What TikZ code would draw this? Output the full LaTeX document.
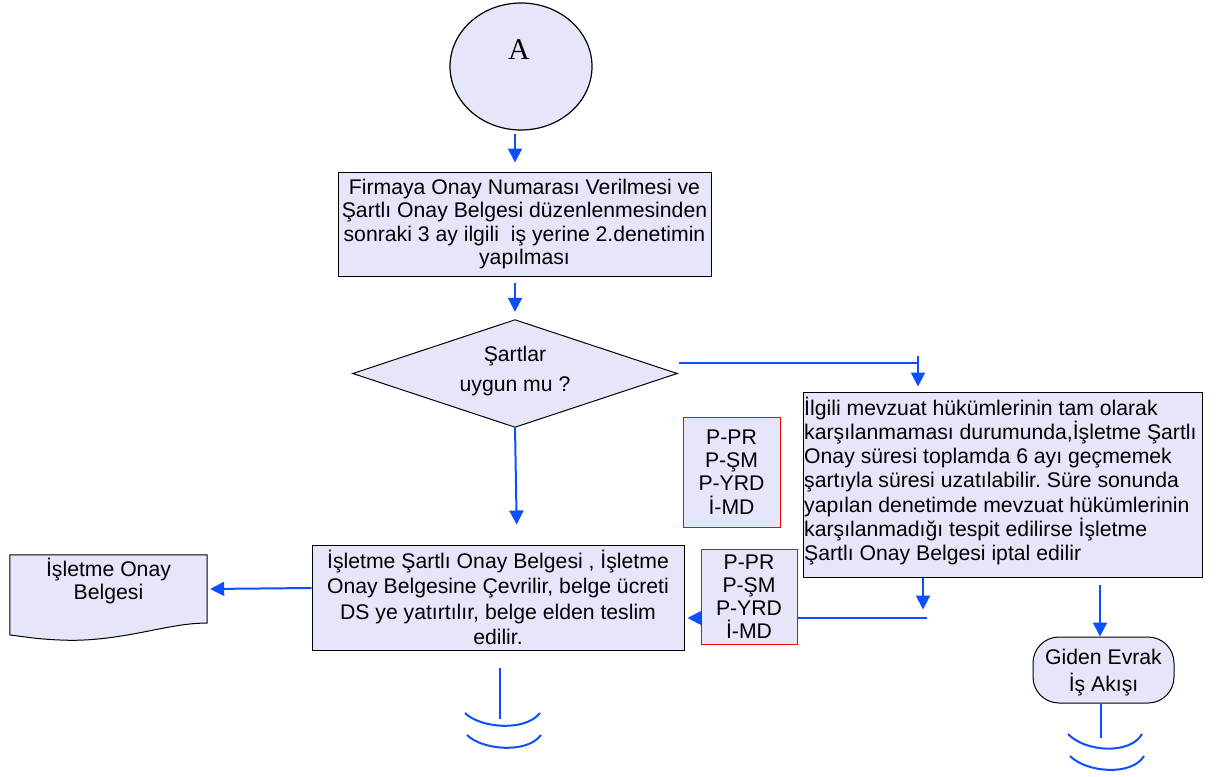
\documentclass[tikz,border=0pt]{standalone}
\usepackage{fontspec}
\setmainfont{Liberation Sans}
\newfontfamily\serifA{Liberation Serif}
\usetikzlibrary{arrows.meta,shapes.geometric}
\definecolor{fillc}{RGB}{230,230,250}
\definecolor{flow}{RGB}{10,80,255}
\frenchspacing
\begin{document}
\begin{tikzpicture}[x=1pt,y=-1pt,
  txt/.style={font=\fontsize{21.2}{23.5}\selectfont},
  box/.style={txt,draw=black,line width=1pt,fill=fillc,align=center,inner sep=2pt},
  refbox/.style={draw=red,line width=1pt,fill=fillc,align=center,inner sep=2pt,
     font=\fontsize{21.2}{23.2}\selectfont},
  flowline/.style={draw=flow,line width=2pt},
  arr/.style={flowline,-{Triangle[width=14pt,length=14pt]}},
  arc/.style={draw=flow,line width=2pt}]
\useasboundingbox (0,0) rectangle (1222,776);
\coordinate (colx) at (515,0);
\coordinate (rx) at (918,0);

% start circle
\node[ellipse,draw=black,line width=1.2pt,fill=fillc,minimum width=142pt,minimum height=127pt,inner sep=0pt] (A) at (521,66.5) {};
\node[font=\serifA\fontsize{30}{30}\selectfont] (Alab) at (519,50) {A};

% box 1
\node[box,minimum width=373pt,minimum height=104pt] (b1) at (524.5,224)
  {Firmaya Onay Numarası Verilmesi ve\\Şartlı Onay Belgesi düzenlenmesinden\\sonraki 3 ay ilgili\ \ iş yerine 2.denetimin\\yapılması};

% decision
\node[minimum width=324pt,minimum height=107pt,inner sep=0pt] (dec) at (515,373.5) {};
\draw[line width=1pt,fill=fillc] (dec.west) -- (dec.north) -- (dec.east) -- (dec.south) -- cycle;
\node[align=center,font=\fontsize{21.2}{30}\selectfont] (declab) at (515,371) {Şartlar\\uygun mu ?};

% right box
\node[draw=black,line width=1pt,fill=fillc,minimum width=399pt,minimum height=185pt,inner sep=0pt] (rb) at (1002.5,484.5) {};
\node[txt,align=left,anchor=west,inner sep=0pt,font=\fontsize{21.2}{24.2}\selectfont] (rblab) at (804,481)
  {İlgili mevzuat hükümlerinin tam olarak\\karşılanmaması durumunda,İşletme Şartlı\\Onay süresi toplamda 6 ayı geçmemek\\şartıyla süresi uzatılabilir. Süre sonunda\\yapılan denetimde mevzuat hükümlerinin\\karşılanmadığı tespit edilirse İşletme\\Şartlı Onay Belgesi iptal edilir};

% ref box 1
\node[refbox,minimum width=97pt,minimum height=110pt] (r1) at (731.5,472)
  {P-PR\\P-ŞM\\P-YRD\\İ-MD};

% box 2
\node[box,minimum width=372pt,minimum height=105pt,font=\fontsize{21.2}{25.5}\selectfont] (b2) at (498,597.5)
  {İşletme Şartlı Onay Belgesi , İşletme\\Onay Belgesine Çevrilir, belge ücreti\\DS ye yatırtılır, belge elden teslim\\edilir.};

% document
\node[minimum width=197pt,minimum height=68pt,inner sep=0pt] (doc) at (108.5,589) {};
\draw[line width=1pt,fill=fillc] (doc.north west) -- (doc.north east) -- (doc.south east)
  .. controls (170,622) and (120,643) .. (60,640)
  .. controls (35,639) and (20,636) .. (10,635) -- cycle;
\node[txt,align=center] (doclab) at (108.5,581) {İşletme Onay\\Belgesi};

% terminator
\node[draw=black,line width=1pt,fill=fillc,minimum width=141pt,minimum height=66pt,rounded corners=26pt,inner sep=0pt] (term) at (1103.5,670) {};
\node[align=center,font=\fontsize{21.2}{27}\selectfont] (termlab) at (1103.5,673) {Giden Evrak\\İş Akışı};

% connectors
\draw[arr,shorten <=3pt,shorten >=9pt] (colx |- A.south) -- (colx |- b1.north);
\draw[arr,shorten <=6pt,shorten >=8pt] (colx |- b1.south) -- (colx |- dec.north);
\draw[arr,shorten >=20pt] (dec.south) -- ([xshift=2pt]dec.south |- b2.north);
\coordinate (d1) at ([shift={(2,-11)}]dec.east);
\draw[flowline] (d1) -- (d1 -| rx);
\draw[arr] ([yshift=7pt]d1 -| rx) -- ([yshift=5pt]rb.north -| rx);
\coordinate (c2) at (923,0);
\draw[arr] (rb.south -| c2) -- ([yshift=-9pt]rb.south -| c2) -- ++(0,23);
\coordinate (j2) at (927,618);
\draw[arr,shorten >=3pt] (j2) -- (j2 -| b2.east);
\draw[arr,shorten >=3pt] ([yshift=9.5pt]b2.west) -- (doc.east);
\coordinate (c3) at (1100,585);
\draw[arr] (c3) -- (c3 |- term.north);

% ref box 2 (over the connector)
\node[refbox,minimum width=96pt,minimum height=95pt] (r2) at (749,596.5)
  {P-PR\\P-ŞM\\P-YRD\\İ-MD};

% off-page ends
\coordinate (e1) at (500,668);
\draw[flowline] (e1) -- ++(0,51);
\draw[arc] (465,713) .. controls (480,728) and (525,732) .. (540,713);
\draw[arc] (467,735) .. controls (482,750) and (527,754) .. (541,735);
\draw[flowline] (term.south -| 1101,0) -- (1101,738);
\draw[arc] (1068,734) .. controls (1085,752) and (1130,755) .. (1142,734);
\draw[arc] (1070,756) .. controls (1087,773) and (1132,776) .. (1144,756);
\end{tikzpicture}
\end{document}
